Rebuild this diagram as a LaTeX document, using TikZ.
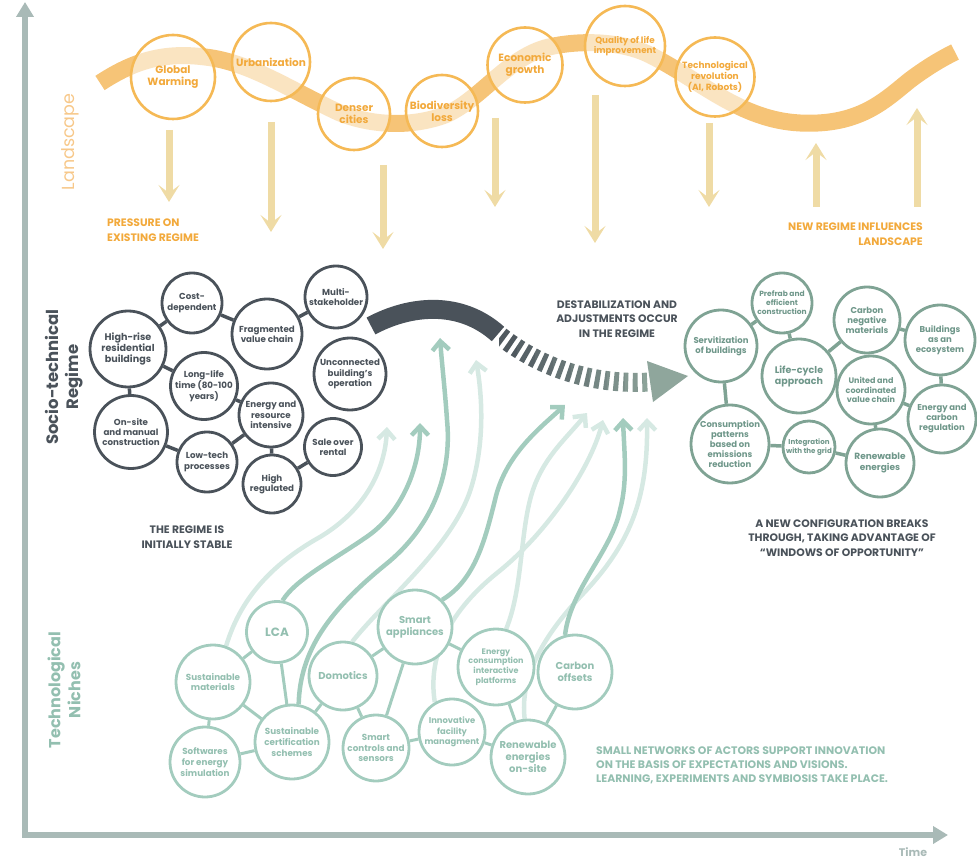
\documentclass[tikz,border=0pt]{standalone}
\usepackage{fontspec}
\setmainfont{Poppins}
\usetikzlibrary{arrows.meta}
\definecolor{landband}{HTML}{F6C477}
\definecolor{landcirc}{HTML}{F5B955}
\definecolor{landtxt}{HTML}{F2A93B}
\definecolor{landarr}{HTML}{EFDBA5}
\definecolor{landlab}{HTML}{F7C88A}
\definecolor{regc}{HTML}{4A525A}
\definecolor{newc}{HTML}{7FA394}
\definecolor{newtxt}{HTML}{6F978A}
\definecolor{nichec}{HTML}{A3CCBE}
\definecolor{nichetxt}{HTML}{93BFB0}
\definecolor{nichelight}{HTML}{D6E9E3}
\definecolor{desgreen}{HTML}{8FA69C}
\definecolor{axisc}{HTML}{A9BAB7}
\pgfdeclarelayer{bg}
\pgfsetlayers{bg,main}
\tikzset{
  land/.style={circle, draw=landcirc, line width=2.6pt, fill=white, fill opacity=0.55, text opacity=1, text=landtxt, align=center, inner sep=0pt, font=\bfseries\fontsize{10.5}{12}\selectfont},
  reg/.style={circle, draw=regc, line width=2.8pt, fill=white, text=regc, align=center, inner sep=0pt, font=\bfseries\fontsize{8.7}{10.3}\selectfont},
  newr/.style={circle, draw=newc, line width=2.8pt, fill=white, text=newtxt, align=center, inner sep=0pt, font=\bfseries\fontsize{8.5}{10}\selectfont},
  niche/.style={circle, draw=nichec, line width=2.8pt, fill=white, text=nichetxt, align=center, inner sep=0pt, font=\bfseries\fontsize{8.8}{10.8}\selectfont},
  regline/.style={draw=regc, line width=3.5pt},
  newline/.style={draw=newc, line width=3.5pt},
  nicheline/.style={draw=nichec, line width=3pt},
  tanarrow/.style={draw=landarr, line width=7pt, -{Stealth[length=17pt,width=21pt,inset=8pt]}},
  darkarr/.style={draw=nichec, line width=4.5pt, -{Straight Barb[length=9pt,width=17pt]}},
  lightarr/.style={draw=nichelight, line width=4.5pt, -{Straight Barb[length=9pt,width=17pt]}},
  caption/.style={font=\bfseries\fontsize{10.8}{14.5}\selectfont, inner sep=0pt},
}
\begin{document}
\begin{tikzpicture}[x=1pt,y=-1pt]
\useasboundingbox (0,0) rectangle (977,858);
% axes
\draw[draw=axisc, line width=6pt, {Triangle[length=15pt,width=17pt]}-{Triangle[length=15pt,width=17pt]}] (25,2) -- (25,835) -- (948,835);
\node[font=\bfseries\fontsize{11}{13}\selectfont, text=axisc, anchor=north, inner sep=0pt] (time) at (913,847) {Time};
% side labels
\node[rotate=90, text=landlab, font=\fontsize{17.5}{19}\selectfont] (lland) at (70,142) {Landscape};
\node[rotate=90, text=regc, align=center, font=\bfseries\fontsize{16.5}{20}\selectfont] (lreg) at (64,377) {Socio-technical\\Regime};
\node[rotate=90, text=nichetxt, align=center, font=\bfseries\fontsize{16}{20}\selectfont] (lniche) at (64,690) {Technological\\Niches};

% landscape band
\begin{pgfonlayer}{bg}
\draw[draw=landband, line width=17pt] (100,83) .. controls (135,60) and (165,52) .. (205,57) .. controls (250,62) and (290,90) .. (340,113) .. controls (370,125) and (410,128) .. (445,115) .. controls (480,100) and (505,60) .. (545,48) .. controls (575,40) and (620,40) .. (650,55) .. controls (700,80) and (740,120) .. (800,123) .. controls (860,126) and (885,100) .. (910,80) .. controls (930,65) and (945,57) .. (955,52);
\end{pgfonlayer}
% landscape circles
\node[land, minimum size=84pt] (gw) at (173,77) {Global\\Warming};
\node[land, minimum size=78pt] (urb) at (271,62) {Urbanization};
\node[land, minimum size=72pt] (den) at (354,114) {Denser\\cities};
\node[land, minimum size=72pt] (bio) at (442,111) {Biodiversity\\loss};
\node[land, minimum size=75pt] (eco) at (525,65) {Economic\\growth};
\node[land, minimum size=80pt, font=\bfseries\fontsize{8.8}{10.5}\selectfont] (qol) at (625,46) {Quality of life\\improvement};
\node[land, minimum size=79pt, font=\bfseries\fontsize{9}{11}\selectfont] (tech) at (715,77) {Technological\\revolution\\(AI, Robots)};
% landscape arrows
\draw[tanarrow] (169,130) -- (169,202);
\draw[tanarrow] (271,122) -- (271,232);
\draw[tanarrow] (383,165) -- (383,249);
\draw[tanarrow] (495,118) -- (495,207);
\draw[tanarrow] (595,95) -- (595,243);
\draw[tanarrow] (709,123) -- (709,207);
\draw[tanarrow] (816,207) -- (816,143);
\draw[tanarrow] (917,207) -- (917,108);
\node[caption, text=landtxt, align=left, anchor=west] (press) at (107,230) {PRESSURE ON\\EXISTING REGIME};
\node[caption, text=landtxt, align=right, anchor=east] (newinf) at (923,234) {NEW REGIME INFLUENCES\\LANDSCAPE};

% regime (left)
\node[reg, minimum size=60pt] (cd) at (192,303) {Cost-\\dependent};
\node[reg, minimum size=62pt] (ms) at (336,297) {Multi-\\stakeholder};
\node[reg, minimum size=76pt, font=\bfseries\fontsize{9.6}{11.3}\selectfont] (hr) at (128,349) {High-rise\\residential\\buildings};
\node[reg, minimum size=70pt] (fv) at (267,334) {Fragmented\\value chain};
\node[reg, minimum size=72pt] (ub) at (350,374) {Unconnected\\building's\\operation};
\node[reg, minimum size=67pt] (ll) at (204,386) {Long-life\\time (80-100\\years)};
\node[reg, minimum size=73pt] (os) at (131,432) {On-site\\and manual\\construction};
\node[reg, minimum size=64pt] (er) at (271,415) {Energy and\\resource\\intensive};
\node[reg, minimum size=57pt] (so) at (333,447) {Sale over\\rental};
\node[reg, minimum size=60pt] (lt) at (207,462) {Low-tech\\processes};
\node[reg, minimum size=58pt] (hg) at (272,484) {High\\regulated};
\draw[regline] (cd) -- (hr);
\draw[regline] (cd) -- (fv);
\draw[regline] (fv) -- (ms);
\draw[regline] (hr) -- (ll);
\draw[regline] (hr) -- (os);
\draw[regline] (ll) -- (er);
\draw[regline] (er) -- (lt);
\draw[regline] (er) -- (hg);
\draw[regline] (os) -- (lt);
\draw[regline] (hg) -- (so);
\node[caption, text=regc, align=center] (stable) at (187,537) {THE REGIME IS\\INITIALLY STABLE};

% destabilization arrow
\draw[draw=regc, line width=19pt] (371,326) .. controls (410,305) and (460,300) .. (498,334);
\foreach \i in {0,...,8} {
  \pgfmathsetmacro\p{92-\i*11}
  \begin{scope}
    \clip (499+\i*18, 280) rectangle (517+\i*18, 420);
    \draw[draw=regc!\p!desgreen, line width=19pt, dash pattern=on 5pt off 4.5pt, dash phase=-2pt] (499,335) .. controls (545,372) and (600,385) .. (650,382);
  \end{scope}
}
\fill[desgreen] (647,361) -- (688,376) -- (653,402) -- cycle;
\node[caption, text=regc, align=center] (destab) at (617,319) {DESTABILIZATION AND\\ADJUSTMENTS OCCUR\\IN THE REGIME};

% new regime (right)
\node[newr, minimum size=72pt] (sv) at (721,346) {Servitization\\of buildings};
\node[newr, minimum size=60pt, font=\bfseries\fontsize{7.5}{9}\selectfont] (pf) at (782,303) {Prefrab and\\efficient\\construction};
\node[newr, minimum size=66pt] (cn) at (867,320) {Carbon\\negative\\materials};
\node[newr, minimum size=70pt] (be) at (940,340) {Buildings\\as an\\ecosystem};
\node[newr, minimum size=74pt, font=\bfseries\fontsize{9.5}{11}\selectfont] (lc) at (799,376) {Life-cycle\\approach};
\node[newr, minimum size=68pt, font=\bfseries\fontsize{8}{9.5}\selectfont] (uc) at (871,390) {United and\\coordinated\\value chain};
\node[newr, minimum size=68pt] (ecr) at (942,419) {Energy and\\carbon\\regulation};
\node[newr, minimum size=78pt] (cp) at (730,444) {Consumption\\patterns\\based on\\emissions\\reduction};
\node[newr, minimum size=52pt, font=\bfseries\fontsize{7.1}{8.5}\selectfont] (ig) at (809,447) {Integration\\with the grid};
\node[newr, minimum size=68pt, font=\bfseries\fontsize{9}{10.5}\selectfont] (ren) at (880,463) {Renewable\\energies};
\draw[newline] (sv) -- (pf);
\draw[newline] (pf) -- (lc);
\draw[newline] (lc) -- (cn);
\draw[newline] (cn) -- (be);
\draw[newline] (be) -- (ecr);
\draw[newline] (ecr) -- (uc);
\draw[newline] (uc) -- (ren);
\draw[newline] (ren) -- (ig);
\draw[newline] (ig) -- (cp);
\draw[newline] (cp) -- (sv);
\node[caption, text=regc, align=center] (newconf) at (842,538) {A NEW CONFIGURATION BREAKS\\THROUGH, TAKING ADVANTAGE OF\\“WINDOWS OF OPPORTUNITY”};

% niches
\node[niche, minimum size=61pt, font=\bfseries\fontsize{12}{14}\selectfont] (lca) at (277,632) {LCA};
\node[niche, minimum size=74pt, font=\bfseries\fontsize{10}{12}\selectfont] (sa) at (415,627) {Smart\\appliances};
\node[niche, minimum size=74pt] (sm) at (213,682) {Sustainable\\materials};
\node[niche, minimum size=68pt, font=\bfseries\fontsize{10}{12}\selectfont] (dm) at (343,676) {Domotics};
\node[niche, minimum size=76pt, font=\bfseries\fontsize{8}{9.8}\selectfont] (ecp) at (496,667) {Energy\\consumption\\interactive\\platforms};
\node[niche, minimum size=74pt, font=\bfseries\fontsize{10}{12}\selectfont] (co) at (575,672) {Carbon\\offsets};
\node[niche, minimum size=70pt] (sw) at (205,762) {Softwares\\for energy\\simulation};
\node[niche, minimum size=74pt] (sc) at (292,742) {Sustainable\\certification\\schemes};
\node[niche, minimum size=66pt] (scs) at (376,748) {Smart\\controls and\\sensors};
\node[niche, minimum size=66pt, font=\bfseries\fontsize{8.4}{10.4}\selectfont] (ifm) at (452,732) {Innovative\\facility\\managment};
\node[niche, minimum size=74pt, font=\bfseries\fontsize{10}{12}\selectfont] (reo) at (528,757) {Renewable\\energies\\on-site};
\draw[nicheline] (lca) -- (sm);
\draw[nicheline] (lca) -- (sc);
\draw[nicheline] (sm) -- (sw);
\draw[nicheline] (sm) -- (sc);
\draw[nicheline] (sw) -- (sc);
\draw[nicheline] (sc) -- (dm);
\draw[nicheline] (dm) -- (sa);
\draw[nicheline] (dm) -- (scs);
\draw[nicheline] (sa) -- (scs);
\draw[nicheline] (sa) -- (ecp);
\draw[nicheline] (scs) -- (ifm);
\draw[nicheline] (ifm) -- (reo);
\draw[nicheline] (ecp) -- (reo);
\draw[nicheline] (co) -- (reo);
\node[caption, text=nichetxt, align=left, anchor=west, font=\bfseries\fontsize{10.9}{14}\selectfont] (small) at (596,765) {SMALL NETWORKS OF ACTORS SUPPORT INNOVATION\\ON THE BASIS OF EXPECTATIONS AND VISIONS.\\LEARNING, EXPERIMENTS AND SYMBIOSIS TAKE PLACE.};

% arrow tips
\coordinate (tipa) at (440,338);
\coordinate (tipb) at (476,360);
\coordinate (tipc) at (387,427);
\coordinate (tipd) at (420,423);
\coordinate (tipe) at (565,405);
\coordinate (tipf) at (587,413);
\coordinate (tipg) at (603,420);
\coordinate (tiph) at (623,418);
\coordinate (tipi) at (647,418);
\begin{pgfonlayer}{bg}
\draw[lightarr] (dm.75) .. controls (385,600) and (455,545) .. (472,485) .. controls (485,440) and (482,395) .. (tipb);
\draw[lightarr] (sm.70) .. controls (240,600) and (270,565) .. (320,537) .. controls (365,510) and (385,470) .. (tipc);
\draw[lightarr] (ecp.75) .. controls (522,590) and (520,540) .. (530,500) .. controls (540,460) and (565,440) .. (tipf);
\draw[lightarr] (ifm.120) .. controls (428,660) and (445,615) .. (497,573) .. controls (545,535) and (590,470) .. (tipg);
\draw[lightarr] (reo.95) .. controls (520,680) and (540,640) .. (580,597) .. controls (630,545) and (648,500) .. (tipi);
\draw[darkarr] (sc.80) .. controls (300,650) and (330,610) .. (385,565) .. controls (435,525) and (452,470) .. (447,420) .. controls (445,390) and (442,365) .. (tipa);
\draw[darkarr] (lca.80) .. controls (295,580) and (330,562) .. (365,538) .. controls (400,515) and (420,470) .. (tipd);
\draw[darkarr] (sa.45) .. controls (475,580) and (485,540) .. (495,500) .. controls (505,455) and (540,428) .. (tipe);
\draw[darkarr] (co.105) .. controls (570,590) and (612,550) .. (620,510) .. controls (628,480) and (624,450) .. (tiph);
\end{pgfonlayer}
\end{tikzpicture}
\end{document}
